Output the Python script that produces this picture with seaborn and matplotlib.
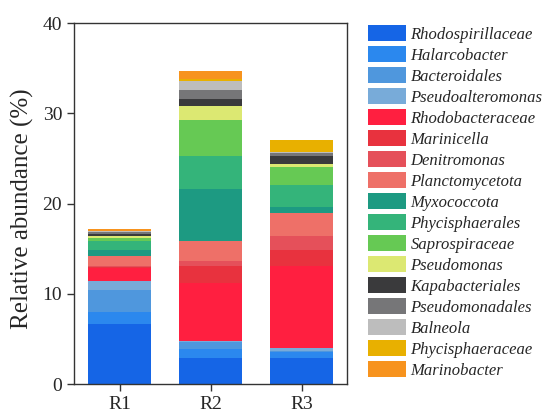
import matplotlib
matplotlib.use("Agg")
import matplotlib.pyplot as plt
from matplotlib.patches import Patch
import seaborn as sns
import pandas as pd

samples = ["R1", "R2", "R3"]
taxa = ["Rhodospirillaceae", "Halarcobacter", "Bacteroidales", "Pseudoalteromonas",
        "Rhodobacteraceae", "Marinicella", "Denitromonas", "Planctomycetota",
        "Myxococcota", "Phycisphaerales", "Saprospiraceae", "Pseudomonas",
        "Kapabacteriales", "Pseudomonadales", "Balneola", "Phycisphaeraceae",
        "Marinobacter"]
r1 = [6.6, 1.4, 2.4, 1.05, 1.45, 0.1, 0.1, 1.1, 0.6, 1.1, 0.25, 0.3, 0.15, 0.2, 0.1, 0.1, 0.15]
r2 = [2.85, 1.0, 0.75, 0.15, 6.45, 1.9, 0.5, 2.3, 5.7, 3.7, 4.0, 1.45, 0.8, 1.05, 1.0, 0.2, 0.9]
r3 = [2.85, 0.75, 0.1, 0.25, 9.15, 1.8, 1.5, 2.6, 0.65, 2.45, 2.0, 0.25, 0.95, 0.35, 0.05, 1.35, 0.0]
colors = ["#1565E6", "#2B88EE", "#4F97DD", "#78ABD9",
          "#FF1F40", "#E8323E", "#E5505A", "#EE7068",
          "#1D9A82", "#34B47A", "#66C954", "#DCE872",
          "#3A3A3C", "#767678", "#BDBDBD", "#E8B000",
          "#F7931E"]

rows = []
for s, vals in zip(samples, [r1, r2, r3]):
    for t, v in zip(taxa, vals):
        rows.append({"sample": s, "taxon": t, "value": v})
df = pd.DataFrame(rows)

sns.set_style("ticks")
plt.rcParams["font.family"] = ["Liberation Serif", "DejaVu Serif"]

fig = plt.figure(figsize=(5.49, 4.16), dpi=100)
ax = fig.add_axes([0.1348, 0.0769, 0.4975, 0.8678])

palette = dict(zip(taxa, colors))
sns.histplot(data=df, x="sample", weights="value", hue="taxon",
             hue_order=taxa[::-1], palette=palette, multiple="stack",
             discrete=True, shrink=0.70, alpha=1, linewidth=0,
             legend=False, ax=ax)

ax.set_xlim(-0.5, 2.5)
ax.set_ylim(0, 40)
ax.set_yticks([0, 10, 20, 30, 40])
ax.set_xlabel("")
ax.set_ylabel("Relative abundance (%)", fontsize=18)
ax.yaxis.set_label_coords(-0.145, 0.485)
ax.tick_params(axis="both", labelsize=14, length=5, width=1, color="#333333",
               direction="out", top=False, right=False)
for sp in ax.spines.values():
    sp.set_visible(True)
    sp.set_linewidth(1)
    sp.set_color("#333333")

handles = [Patch(facecolor=c, edgecolor="none", label=t) for t, c in zip(taxa, colors)]
leg = fig.legend(handles=handles, loc="upper left", bbox_to_anchor=(368/549, 1 - 25/416),
                 frameon=False, fontsize=12, handlelength=2.3, handleheight=1.1,
                 labelspacing=0.2, handletextpad=0.25, borderpad=0, borderaxespad=0)
for txt in leg.get_texts():
    txt.set_fontstyle("italic")

fig.savefig("out.png", dpi=100)
